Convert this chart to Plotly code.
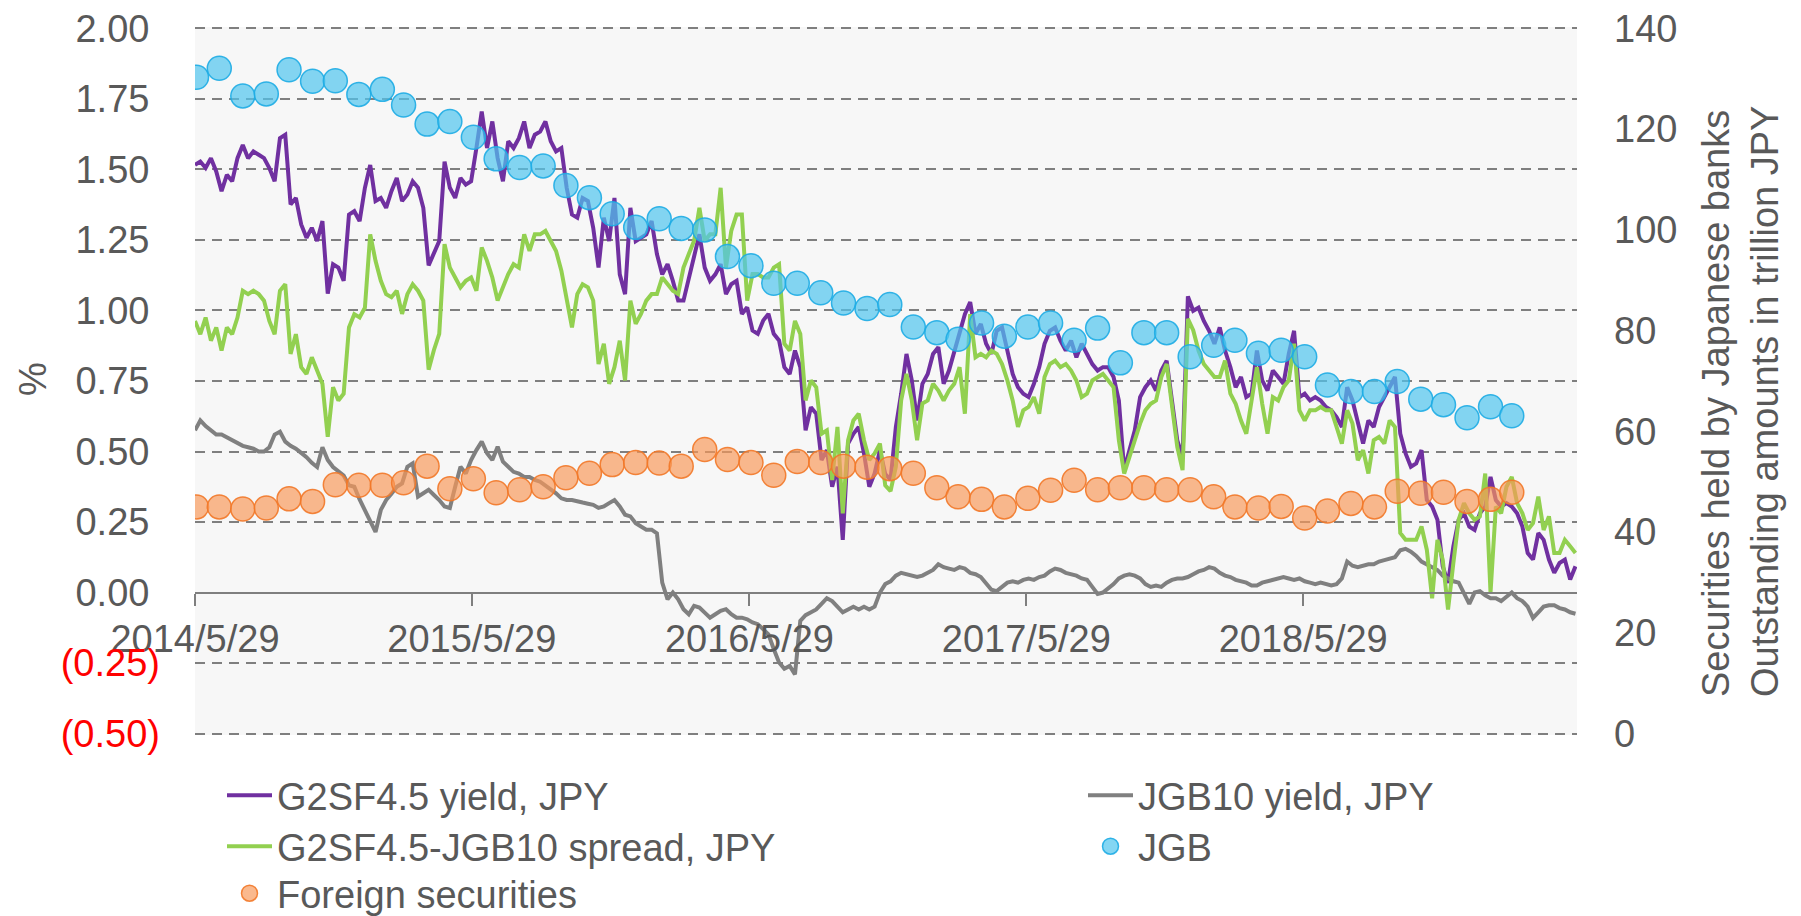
import plotly.graph_objects as go
import pandas as pd

FONT = "Arial, 'Liberation Sans', sans-serif"
TXT = "#595959"

# ---------------- data ----------------
week_start = "2014-05-29"   # weekly samples

g2sf_yield = [
    1.516, 1.528, 1.505, 1.54, 1.493, 1.423, 1.481, 1.458, 1.54, 1.587, 1.54, 1.564, 1.552,
    1.54, 1.505, 1.458, 1.611, 1.623, 1.376, 1.399, 1.305, 1.258, 1.293, 1.246, 1.317, 1.06,
    1.164, 1.152, 1.105, 1.34, 1.352, 1.317, 1.435, 1.516, 1.388, 1.399, 1.364, 1.423, 1.47,
    1.388, 1.411, 1.458, 1.435, 1.364, 1.16, 1.2, 1.246, 1.528, 1.435, 1.399, 1.47, 1.446,
    1.458, 1.576, 1.705, 1.576, 1.67, 1.54, 1.458, 1.6, 1.576, 1.611, 1.67, 1.576, 1.623,
    1.634, 1.67, 1.6, 1.564, 1.576, 1.435, 1.34, 1.329, 1.399, 1.388, 1.293, 1.152, 1.329,
    1.246, 1.399, 1.128, 1.058, 1.364, 1.246, 1.258, 1.27, 1.317, 1.2, 1.128, 1.164, 1.105,
    1.035, 1.035, 1.117, 1.2, 1.27, 1.152, 1.105, 1.128, 1.164, 1.058, 1.093, 1.105, 0.988,
    1.011, 0.929, 0.917, 0.964, 0.988, 0.917, 0.894, 0.799, 0.775, 0.858, 0.799, 0.575, 0.657,
    0.634, 0.47, 0.505, 0.375, 0.446, 0.187, 0.528, 0.563, 0.587, 0.493, 0.375, 0.422, 0.505,
    0.42, 0.40, 0.587, 0.705, 0.846, 0.752, 0.61, 0.74, 0.775, 0.846, 0.87, 0.74, 0.787,
    0.858, 0.928, 0.987, 1.03, 0.917, 0.952, 0.882, 0.846, 0.928, 0.94, 0.858, 0.775, 0.728,
    0.705, 0.693, 0.74, 0.799, 0.882, 0.928, 0.94, 0.893, 0.858, 0.893, 0.834, 0.882, 0.846,
    0.81, 0.787, 0.799, 0.799, 0.764, 0.681, 0.434, 0.505, 0.575, 0.693, 0.728, 0.752, 0.716,
    0.787, 0.822, 0.681, 0.54, 0.481, 1.05, 0.999, 1.01, 0.963, 0.928, 0.882, 0.94, 0.858,
    0.799, 0.728, 0.764, 0.693, 0.705, 0.858, 0.752, 0.716, 0.787, 0.764, 0.74, 0.846, 0.928,
    0.693, 0.705, 0.681, 0.693, 0.681, 0.658, 0.646, 0.622, 0.587, 0.728, 0.681, 0.61, 0.528,
    0.61, 0.587, 0.658, 0.693, 0.728, 0.764, 0.563, 0.493, 0.446, 0.458, 0.505, 0.328, 0.305,
    0.258, 0.093, 0.034, 0.164, 0.258, 0.281, 0.234, 0.222, 0.281, 0.305, 0.41, 0.328, 0.305,
    0.317, 0.305, 0.281, 0.234, 0.14, 0.117, 0.211, 0.187, 0.117, 0.07, 0.105, 0.117, 0.046,
    0.093,
]

jgb10_yield = [
    0.575, 0.61, 0.59, 0.575, 0.56, 0.56, 0.55, 0.54, 0.53, 0.52, 0.515, 0.51, 0.50,
    0.50, 0.515, 0.56, 0.57, 0.535, 0.52, 0.51, 0.495, 0.48, 0.46, 0.445, 0.515, 0.47,
    0.445, 0.43, 0.415, 0.38, 0.375, 0.33, 0.293, 0.258, 0.215, 0.293, 0.328, 0.35, 0.375,
    0.387, 0.446, 0.458, 0.34, 0.352, 0.364, 0.346, 0.328, 0.305, 0.30, 0.375, 0.446, 0.422,
    0.47, 0.505, 0.535, 0.494, 0.47, 0.517, 0.464, 0.446, 0.428, 0.422, 0.41, 0.41, 0.399,
    0.393, 0.38, 0.369, 0.352, 0.334, 0.328, 0.328, 0.322, 0.319, 0.315, 0.311, 0.30, 0.305,
    0.317, 0.328, 0.305, 0.276, 0.27, 0.246, 0.234, 0.223, 0.223, 0.21, 0.035, -0.024, 0.0,
    -0.024, -0.059, -0.077, -0.047, -0.053, -0.071, -0.089, -0.077, -0.065, -0.059, -0.077, -0.089, -0.089,
    -0.095, -0.106, -0.112, -0.13, -0.148, -0.2, -0.248, -0.27, -0.26, -0.29, -0.1, -0.08, -0.07,
    -0.06, -0.04, -0.02, -0.03, -0.05, -0.07, -0.06, -0.05, -0.06, -0.05, -0.06, -0.05, 0.0,
    0.03, 0.04, 0.06, 0.07, 0.065, 0.06, 0.055, 0.06, 0.07, 0.08, 0.1, 0.09, 0.085,
    0.08, 0.09, 0.085, 0.07, 0.065, 0.055, 0.03, 0.01, 0.005, 0.02, 0.035, 0.04, 0.035,
    0.045, 0.05, 0.045, 0.055, 0.06, 0.075, 0.085, 0.08, 0.07, 0.065, 0.06, 0.05, 0.045,
    0.02, -0.005, 0.0, 0.015, 0.03, 0.05, 0.06, 0.065, 0.06, 0.05, 0.03, 0.02, 0.025,
    0.02, 0.035, 0.045, 0.05, 0.05, 0.055, 0.065, 0.075, 0.08, 0.09, 0.085, 0.07, 0.06,
    0.055, 0.045, 0.04, 0.035, 0.025, 0.025, 0.035, 0.04, 0.045, 0.05, 0.055, 0.05, 0.045,
    0.05, 0.04, 0.035, 0.03, 0.035, 0.03, 0.025, 0.03, 0.05, 0.11, 0.095, 0.09, 0.095,
    0.1, 0.1, 0.11, 0.115, 0.12, 0.125, 0.15, 0.155, 0.145, 0.13, 0.11, 0.1, 0.09,
    0.08, 0.06, 0.05, 0.04, 0.035, 0.0, -0.04, 0.0, 0.005, -0.01, -0.02, -0.02, -0.03,
    -0.015, 0.0, -0.02, -0.03, -0.05, -0.09, -0.07, -0.05, -0.045, -0.045, -0.055, -0.06, -0.07,
    -0.075,
]

spread = [
    0.963, 0.916, 0.975, 0.893, 0.94, 0.858, 0.94, 0.916, 0.975, 1.07, 1.058, 1.07, 1.058,
    1.035, 0.963, 0.916, 1.07, 1.093, 0.846, 0.916, 0.799, 0.775, 0.834, 0.787, 0.74, 0.552,
    0.728, 0.681, 0.705, 0.94, 0.987, 0.975, 1.01, 1.27, 1.176, 1.105, 1.058, 1.047, 1.07,
    0.988, 1.058, 1.093, 1.07, 1.035, 0.79, 0.86, 0.917, 1.235, 1.152, 1.117, 1.082, 1.105,
    1.117, 1.07, 1.223, 1.176, 1.117, 1.035, 1.082, 1.129, 1.164, 1.152, 1.27, 1.211, 1.27,
    1.27, 1.282, 1.247, 1.211, 1.141, 1.035, 0.94, 1.058, 1.093, 1.082, 1.035, 0.81, 0.882,
    0.74, 0.799, 0.893, 0.752, 1.035, 0.953, 0.988, 1.035, 1.058, 1.058, 1.117, 1.093, 1.07,
    1.058, 1.152, 1.2, 1.247, 1.364, 1.247, 1.27, 1.27, 1.435, 1.152, 1.282, 1.34, 1.34,
    1.035, 1.129, 1.129, 1.117, 1.117, 1.152, 1.164, 0.882, 0.858, 0.963, 0.917, 0.681, 0.752,
    0.728, 0.563, 0.575, 0.399, 0.587, 0.281, 0.54, 0.61, 0.634, 0.54, 0.47, 0.493, 0.528,
    0.38, 0.36, 0.446, 0.681, 0.775, 0.681, 0.54, 0.67, 0.681, 0.74, 0.716, 0.681, 0.716,
    0.74, 0.799, 0.634, 0.987, 0.834, 0.846, 0.834, 0.858, 0.846, 0.81, 0.752, 0.681, 0.587,
    0.646, 0.658, 0.693, 0.634, 0.764, 0.81, 0.822, 0.799, 0.81, 0.787, 0.752, 0.693, 0.705,
    0.752, 0.764, 0.775, 0.752, 0.728, 0.54, 0.422, 0.481, 0.54, 0.599, 0.646, 0.669, 0.681,
    0.764, 0.81, 0.658, 0.516, 0.434, 0.97, 0.93, 0.858, 0.81, 0.787, 0.764, 0.764, 0.822,
    0.705, 0.669, 0.61, 0.563, 0.681, 0.799, 0.669, 0.563, 0.693, 0.681, 0.728, 0.752, 0.882,
    0.646, 0.61, 0.646, 0.646, 0.658, 0.646, 0.646, 0.587, 0.528, 0.646, 0.599, 0.469, 0.505,
    0.422, 0.54, 0.552, 0.528, 0.61, 0.587, 0.211, 0.187, 0.187, 0.187, 0.234, 0.152, -0.02,
    0.187, 0.116, -0.06, 0.105, 0.258, 0.317, 0.281, 0.258, 0.27, 0.422, 0.0, 0.305, 0.281,
    0.375, 0.41, 0.317, 0.281, 0.222, 0.246, 0.34, 0.222, 0.27, 0.14, 0.14, 0.187, 0.164,
    0.14,
]

month_start = "2014-05-31"  # month-end observations

jgb_holdings = [
    130.3, 132.1, 126.6, 127.0, 131.8, 129.5, 129.6, 126.9, 127.9, 124.8,
    121.0, 121.5, 118.4, 114.1, 112.4, 112.7, 108.8, 106.4, 103.2, 100.5,
    102.2, 100.3, 100.0, 94.7, 92.9, 89.4, 89.4, 87.5, 85.5, 84.4,
    85.2, 80.7, 79.6, 78.3, 81.5, 78.9, 80.7, 81.5, 78.1, 80.5,
    73.6, 79.6, 79.6, 74.8, 77.1, 78.1, 75.5, 76.1, 74.8, 69.2,
    67.9, 67.9, 69.9, 66.4, 65.3, 62.7, 64.9, 63.1,
]

foreign_holdings = [
    45.0, 45.0, 44.6, 44.8, 46.6, 46.1, 49.4, 49.3, 49.3, 49.8,
    53.1, 48.6, 50.6, 47.8, 48.4, 49.0, 50.8, 51.7, 53.4, 53.8,
    53.7, 53.1, 56.4, 54.4, 53.8, 51.3, 54.0, 53.8, 53.1, 52.9,
    52.6, 51.7, 48.8, 47.0, 46.5, 45.0, 46.7, 48.3, 50.3, 48.4,
    48.8, 48.8, 48.4, 48.4, 47.0, 45.0, 44.8, 45.1, 42.8, 44.2,
    45.7, 45.0, 48.1, 47.7, 47.9, 46.1, 46.5, 47.9,
]

x_tickvals = ["2014-05-29", "2015-05-29", "2016-05-29", "2017-05-29", "2018-05-29"]
x_ticktext = ["2014/5/29", "2015/5/29", "2016/5/29", "2017/5/29", "2018/5/29"]
y_tickvals = [2.0, 1.75, 1.5, 1.25, 1.0, 0.75, 0.5, 0.25, 0.0, -0.25, -0.5]
y_ticktext = ["2.00", "1.75", "1.50", "1.25", "1.00", "0.75", "0.50", "0.25", "0.00", "(0.25)", "(0.50)"]
y2_tickvals = [0, 20, 40, 60, 80, 100, 120, 140]

# ---------------- build ----------------
def weekly(n):
    return pd.date_range(week_start, periods=n, freq="7D")

def monthly(n):
    try:
        return pd.date_range(month_start, periods=n, freq="ME")
    except Exception:
        return pd.date_range(month_start, periods=n, freq="M")

def fmt_tick(t):
    if t.startswith("("):
        return "<span style='color:#FF0000'>" + t + "</span>"
    return t + "\u00a0"

fig = go.Figure()

fig.add_trace(go.Scatter(
    x=weekly(len(g2sf_yield)), y=g2sf_yield, mode="lines", name="G2SF4.5 yield, JPY",
    line=dict(color="#7030A0", width=4), legend="legend"))
fig.add_trace(go.Scatter(
    x=weekly(len(jgb10_yield)), y=jgb10_yield, mode="lines", name="JGB10 yield, JPY",
    line=dict(color="#808080", width=4), legend="legend2"))
fig.add_trace(go.Scatter(
    x=weekly(len(spread)), y=spread, mode="lines", name="G2SF4.5-JGB10 spread, JPY",
    line=dict(color="#92D050", width=4), legend="legend3"))
fig.add_trace(go.Scatter(
    x=monthly(len(jgb_holdings)), y=jgb_holdings, mode="markers", name="JGB", yaxis="y2",
    marker=dict(size=24, color="rgba(80,196,238,0.70)",
                line=dict(color="rgba(30,172,228,0.9)", width=1.5)),
    legend="legend4"))
fig.add_trace(go.Scatter(
    x=monthly(len(foreign_holdings)), y=foreign_holdings, mode="markers",
    name="Foreign securities", yaxis="y2",
    marker=dict(size=24, color="rgba(248,152,88,0.68)",
                line=dict(color="rgba(242,120,40,0.9)", width=1.5)),
    legend="legend5"))

# the page body adds an 8 px offset; size the figure so it fits the window
OFF = 8
W, H = 1801 - OFF, 916 - OFF
L, R, T, B = 195 - OFF, 224, 27 - OFF, 181
PW, PH = W - L - R, H - T - B

def px(xf):   # xf: x in window pixels
    return (xf - OFF - L) / PW

def py(yf):   # yf: y in window pixels
    return (H - B - (yf - OFF)) / PH

LEG_FONT = 38

def leg(xw, row_center):
    return dict(
        orientation="v", xanchor="left", yanchor="top",
        x=px(xw), y=py(row_center - 32),
        font=dict(family=FONT, size=LEG_FONT, color=TXT),
        bgcolor="rgba(0,0,0,0)", borderwidth=0, itemwidth=45,
    )

fig.update_layout(
    width=W, height=H,
    margin=dict(l=L, r=R, t=T, b=B, pad=0, autoexpand=False),
    paper_bgcolor="white", plot_bgcolor="#F7F7F7",
    font=dict(family=FONT, size=38, color=TXT),
    showlegend=True,
    legend=leg(222, 796),
    legend2=leg(1083, 796),
    legend3=leg(222, 847),
    legend4=leg(1083, 847),
    legend5=leg(222, 894),
    xaxis=dict(
        type="date", range=["2014-05-29", "2019-05-25"],
        anchor="free", position=0.2, automargin=False,
        showline=True, linecolor="#7F7F7F", linewidth=2,
        ticks="outside", ticklen=12, tickwidth=2, tickcolor="#7F7F7F",
        tickvals=x_tickvals, ticktext=x_ticktext,
        tickfont=dict(family=FONT, size=38, color=TXT),
        ticklabelstandoff=0, ticklabeloverflow="allow",
        showgrid=False, zeroline=False,
    ),
    yaxis=dict(
        range=[-0.505, 2.005], tickvals=y_tickvals, automargin=False,
        ticktext=[fmt_tick(t) for t in y_ticktext],
        tickfont=dict(family=FONT, size=38, color=TXT),
        showgrid=True, gridcolor="#7F7F7F", gridwidth=2, griddash="10px,7px",
        zeroline=False, showline=False, ticks="",
        ticklabelstandoff=34, ticklabeloverflow="allow",
    ),
    yaxis2=dict(
        overlaying="y", side="right", range=[-0.28, 140.28], tickvals=y2_tickvals,
        automargin=False,
        tickfont=dict(family=FONT, size=38, color=TXT),
        showgrid=False, zeroline=False, showline=False, ticks="",
        ticklabelstandoff=36, ticklabeloverflow="allow",
    ),
    annotations=[
        dict(text="%", xref="paper", yref="paper", x=px(33), y=py(379),
             xanchor="center", yanchor="middle", textangle=-90, showarrow=False,
             font=dict(family=FONT, size=38, color=TXT)),
        dict(text="Securities held by Japanese banks<br>Outstanding amounts in trillion JPY",
             xref="paper", yref="paper", x=px(1741), y=py(402),
             xanchor="center", yanchor="middle", textangle=-90, showarrow=False,
             align="left", font=dict(family=FONT, size=38, color=TXT)),
    ],
)

fig.write_html("out.html")
